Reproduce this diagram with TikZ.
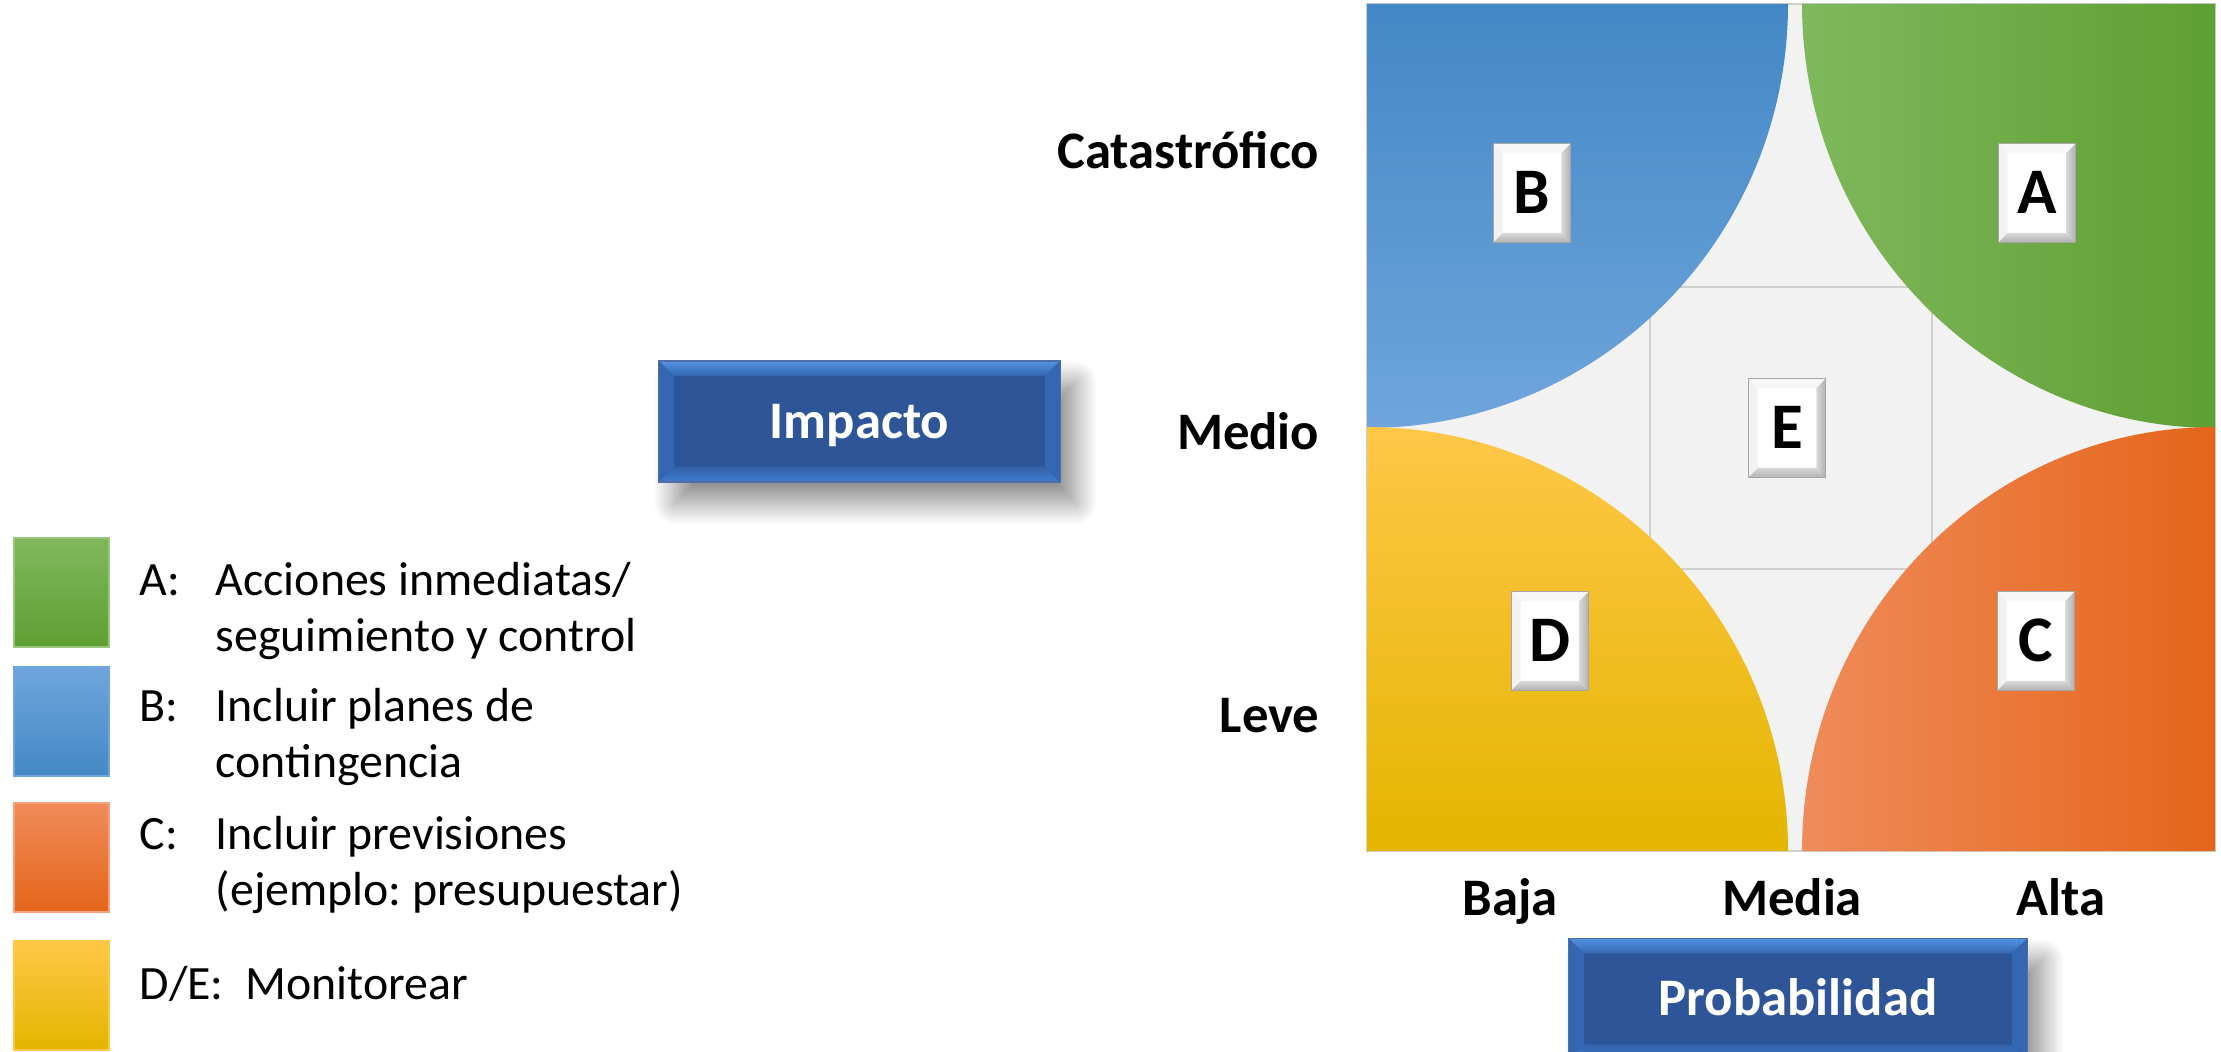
\documentclass[tikz,border=0pt]{standalone}
\usepackage{fontspec}
\setmainfont{Carlito}
\usetikzlibrary{shadows.blur}
\definecolor{gA1}{HTML}{80B85D}
\definecolor{gA2}{HTML}{5E9F32}
\definecolor{bB1}{HTML}{4388C6}
\definecolor{bB2}{HTML}{6FA5DC}
\definecolor{oC1}{HTML}{F08B5A}
\definecolor{oC2}{HTML}{E4651A}
\definecolor{yD1}{HTML}{FFC748}
\definecolor{yD2}{HTML}{FFC300}
\definecolor{yD3}{HTML}{E4B500}
\definecolor{gridbg}{HTML}{F2F2F2}
\definecolor{gridln}{HTML}{D0D0D0}
\definecolor{boxblue}{HTML}{2E5597}
\definecolor{bvtopA}{HTML}{5393E3}
\definecolor{bvtopB}{HTML}{3565AE}
\definecolor{bvbotA}{HTML}{3F7BD0}
\definecolor{bvbotB}{HTML}{3362AA}
\definecolor{bvside}{HTML}{3566B2}
\newcommand{\mybevel}[5]{%
  \path (path picture bounding box.north west) coordinate (bvnw)
        (path picture bounding box.north east) coordinate (bvne)
        (path picture bounding box.south west) coordinate (bvsw)
        (path picture bounding box.south east) coordinate (bvse);
  \path[#2] (bvnw) -- (bvne) -- ([shift={(-#1,-#1)}]bvne) -- ([shift={(#1,-#1)}]bvnw) -- cycle;
  \path[#5] (bvsw) -- (bvse) -- ([shift={(-#1,#1)}]bvse) -- ([shift={(#1,#1)}]bvsw) -- cycle;
  \path[#3] (bvnw) -- (bvsw) -- ([shift={(#1,#1)}]bvsw) -- ([shift={(#1,-#1)}]bvnw) -- cycle;
  \path[#4] (bvne) -- (bvse) -- ([shift={(-#1,#1)}]bvse) -- ([shift={(-#1,-#1)}]bvne) -- cycle;
}
\tikzset{
  bluebox/.style={minimum height=34.4pt, inner sep=0pt, fill=boxblue,
    draw=boxblue!85!white, line width=0.3pt, text=white,
    font=\fontsize{15pt}{18pt}\selectfont\bfseries,
    text height=9.5pt, text depth=0pt,
    blur shadow={shadow xshift=4.5pt, shadow yshift=-6pt, shadow blur radius=6pt, shadow blur steps=30, shadow opacity=45},
    path picture={\mybevel{4.3pt}{top color=bvtopA,bottom color=bvtopB}{fill=bvside}{fill=bvside}{top color=bvbotB,bottom color=bvbotA}}},
  letterbox/.style={minimum width=21.9pt, minimum height=27.9pt, inner sep=0pt,
    fill=white, draw=gray!70, line width=0.3pt,
    font=\fontsize{18.5pt}{21pt}\selectfont\bfseries,
    text height=11.7pt, text depth=0pt,
    path picture={\mybevel{2.6pt}{fill=gray!6}{fill=gray!10}{left color=gray!30,right color=gray!62}{top color=gray!30,bottom color=gray!60}}},
  axislbl/.style={font=\fontsize{15pt}{18pt}\selectfont\bfseries, inner sep=0pt},
  legtxt/.style={font=\fontsize{13.6pt}{16pt}\selectfont, inner sep=0pt, anchor=base west},
  legsq/.style={line width=0.6pt}
}
\begin{document}
\frenchspacing
\begin{tikzpicture}[x=0.01cm,y=-0.01cm]
\useasboundingbox (0,0) rectangle (2221,1052);
% grid background
\fill[gridbg] (1367,4) rectangle (2215,851);
\draw[gridln, line width=0.6pt] (1367,4) rectangle (2215,851);
\draw[gridln, line width=0.6pt] (1650,4) -- (1650,851) (1932,4) -- (1932,851)
  (1367,287) -- (2215,287) (1367,569) -- (2215,569);
% quarter regions
\shade[top color=bB1, bottom color=bB2] (1367,4) -- (1788,4) arc[start angle=0, end angle=90, x radius=421, y radius=424] -- cycle;
\shade[left color=gA1, right color=gA2] (2215,4) -- (2215,428) arc[start angle=90, end angle=180, x radius=413, y radius=424] -- cycle;
\shade[left color=oC1, right color=oC2] (2215,851) -- (1802,851) arc[start angle=180, end angle=270, x radius=413, y radius=424] -- cycle;
\shade[top color=yD1, middle color=yD2, bottom color=yD3] (1367,851) -- (1367,427) arc[start angle=-90, end angle=0, x radius=421, y radius=424] -- cycle;
% letter boxes
\node[letterbox] (B) at (1532,193) {B};
\node[letterbox] (A) at (2037,193) {A};
\node[letterbox] (E) at (1787,428) {E};
\node[letterbox] (D) at (1550,641) {D};
\node[letterbox] (C) at (2036,641) {C};
% axis labels
\node[axislbl, anchor=base east] (cat) at (1320,169) {Catastrófico};
\node[axislbl, anchor=base east] (med) at (1320,449) {Medio};
\node[axislbl, anchor=base east] (lev) at (1320,732) {Leve};
\node[axislbl, anchor=base] (baja) at (1510,915) {Baja};
\node[axislbl, anchor=base] (media) at (1792,915) {Media};
\node[axislbl, anchor=base] (alta) at (2061,915) {Alta};
% axis title boxes
\node[bluebox, minimum width=114.1pt] (imp) at (859.5,421.5) {Impacto};
\node[bluebox, minimum width=130.3pt] (prob) at (1798,999) {Probabilidad};
% legend
\shade[legsq, top color=gA1, bottom color=gA2, draw=gA1!80!white] (14,538) rectangle (109,647);
\shade[legsq, top color=bB2, bottom color=bB1, draw=bB2] (14,667) rectangle (109,776);
\shade[legsq, top color=oC1, bottom color=oC2, draw=oC1!80!white] (14,803) rectangle (109,912);
\shade[legsq, top color=yD1, middle color=yD2, bottom color=yD3, draw=yD1] (14,941) rectangle (109,1050);
\node[legtxt] (la) at (139,595) {A:};
\node[legtxt] (la1) at (215,595) {Acciones inmediatas/};
\node[legtxt] (la2) at (215,651) {seguimiento y control};
\node[legtxt] (lb) at (139,721) {B:};
\node[legtxt] (lb1) at (215,721) {Incluir planes de};
\node[legtxt] (lb2) at (215,777) {contingencia};
\node[legtxt] (lc) at (139,849) {C:};
\node[legtxt] (lc1) at (215,849) {Incluir previsiones};
\node[legtxt] (lc2) at (215,905) {(ejemplo: presupuestar)};
\node[legtxt] (ld) at (139,999) {D/E:};
\node[legtxt] (ld1) at (245,999) {Monitorear};
\end{tikzpicture}
\end{document}
